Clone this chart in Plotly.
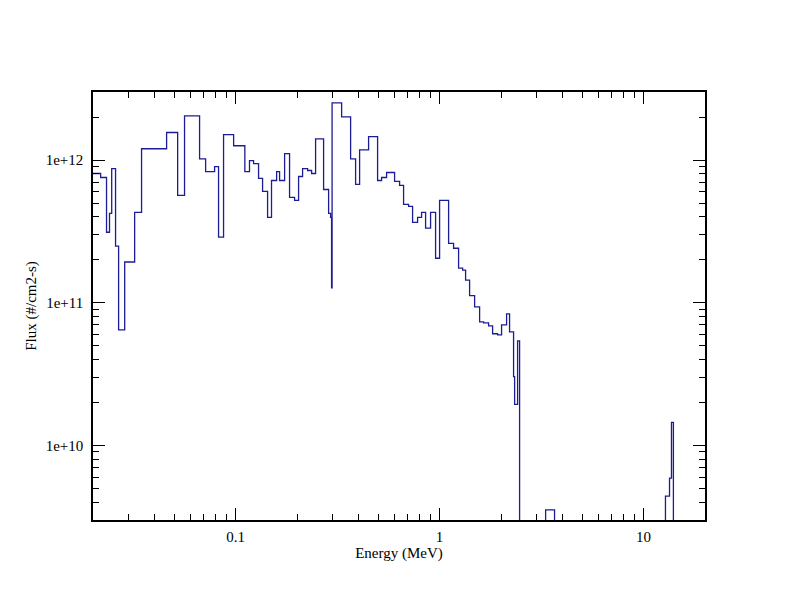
import numpy as np
import plotly.graph_objects as go

# Bin edges (MeV) and flux per bin (#/cm2-s); 0 = empty bin
edges = [0.019, 0.0218, 0.0233, 0.0241, 0.0247, 0.0258, 0.0267, 0.0286, 0.032, 0.0346,
         0.0459, 0.052, 0.0562, 0.0666, 0.0713, 0.0789, 0.0825, 0.0873, 0.0978, 0.111,
         0.117, 0.1225, 0.1296, 0.1356, 0.1435, 0.150, 0.1589, 0.1643, 0.1739, 0.1839,
         0.1946, 0.2036, 0.213, 0.2254, 0.2358, 0.2467, 0.270, 0.2857, 0.2922, 0.2955,
         0.2972, 0.331, 0.3663, 0.3875, 0.4054, 0.4487, 0.4967, 0.5196, 0.5497, 0.6017,
         0.6367, 0.666, 0.7047, 0.7372, 0.780, 0.816, 0.8538, 0.9033, 0.9559, 1.0,
         1.107, 1.171, 1.239, 1.297, 1.341, 1.403, 1.485, 1.571, 1.643, 1.739,
         1.819, 1.925, 2.013, 2.130, 2.203, 2.305, 2.332, 2.412, 2.467, 3.31,
         3.66, 12.8, 13.4, 13.7, 14.0, 21.0]

flux = [8.05e11, 7.55e11, 3.12e11, 4.23e11, 8.72e11, 2.49e11, 6.46e10, 1.93e11, 4.30e11, 1.20e12,
        1.56e12, 5.65e11, 2.04e12, 1.02e12, 8.31e11, 9.01e11, 2.88e11, 1.51e12, 1.26e12, 8.31e11,
        9.92e11, 9.45e11, 7.43e11, 6.03e11, 3.97e11, 7.19e11, 8.31e11, 7.19e11, 1.11e12, 5.47e11,
        5.22e11, 7.67e11, 8.72e11, 8.45e11, 8.05e11, 1.41e12, 6.22e11, 4.23e11, 3.97e11, 1.27e11,
        2.52e12, 2.01e12, 1.02e12, 6.75e11, 1.18e12, 1.46e12, 7.19e11, 7.55e11, 8.18e11, 7.08e11,
        6.64e11, 4.89e11, 4.74e11, 3.66e11, 3.97e11, 4.30e11, 3.33e11, 4.30e11, 2.05e11, 5.22e11,
        2.61e11, 2.41e11, 1.75e11, 1.69e11, 1.44e11, 1.12e11, 9.35e10, 7.35e10, 7.23e10, 6.89e10,
        6.06e10, 5.96e10, 7.00e10, 8.35e10, 6.25e10, 3.03e10, 1.94e10, 5.41e10, 0, 3.53e9,
        0, 4.41e9, 5.89e9, 1.45e10, 0]

x_tick_vals = [0.1, 1, 10]
x_tick_text = ["0.1", "1", "10"]
y_tick_vals = [1e10, 1e11, 1e12]
y_tick_text = ["1e+10", "1e+11", "1e+12"]

f = np.array(flux, dtype=float)
f_plot = np.where(f > 0, f, 1e8)  # empty bins drawn down below the axis floor
xs = np.array(edges, dtype=float)
ys = np.append(f_plot, f_plot[-1])

fig = go.Figure()
fig.add_trace(go.Scatter(x=xs, y=ys, mode="lines", line=dict(shape="hv", color="#1c1c94", width=1.3),
                         showlegend=False, hoverinfo="skip"))

font = dict(family="Liberation Serif, Times New Roman, serif", size=15, color="black")
axis_common = dict(type="log", showline=True, linecolor="black", linewidth=1.5, mirror="allticks",
                   ticks="inside", ticklen=12, tickwidth=1, tickcolor="black", showgrid=False,
                   zeroline=False, tickfont=font,
                   minor=dict(ticks="inside", ticklen=6, tickwidth=1, tickcolor="black", dtick="D1",
                              showgrid=False))

fig.update_layout(
    width=792, height=612,
    margin=dict(l=93, r=87, t=92, b=92),
    paper_bgcolor="white", plot_bgcolor="white",
    font=font,
    xaxis=dict(axis_common, range=[np.log10(0.02), np.log10(20)], tickvals=x_tick_vals,
               ticktext=x_tick_text, ticklabelstandoff=2,
               title=dict(text="Energy (MeV)", font=font, standoff=4)),
    yaxis=dict(axis_common, range=[np.log10(3e9), np.log10(3e12)], tickvals=y_tick_vals,
               ticktext=y_tick_text, ticklabelstandoff=5,
               title=dict(text="Flux (#/cm2-s)", font=font, standoff=5)),
)

fig.write_html("out.html")
